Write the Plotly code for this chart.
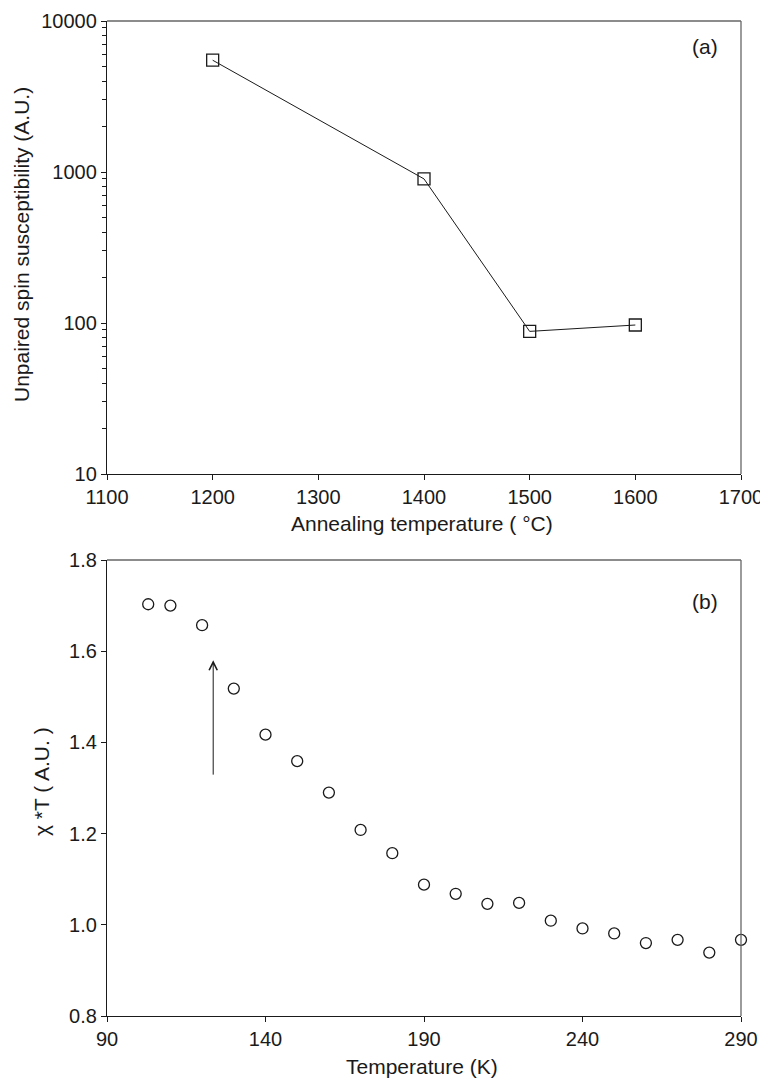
import plotly.graph_objects as go

# Panel (a)
anneal_temp = [1200, 1400, 1500, 1600]
spin_susc = [5500, 900, 88, 97]

# Panel (b)
temp_k = [103, 110, 120, 130, 140, 150, 160, 170, 180, 190, 200, 210, 220, 230, 240, 250, 260, 270, 280, 290]
chi_t = [1.703, 1.700, 1.657, 1.518, 1.417, 1.359, 1.290, 1.208, 1.157, 1.088, 1.068, 1.046, 1.048,
         1.009, 0.992, 0.981, 0.960, 0.967, 0.939, 0.967]

x_ticks_a = [1100, 1200, 1300, 1400, 1500, 1600, 1700]
y_ticks_a = [10, 100, 1000, 10000]
x_ticks_b = [90, 140, 190, 240, 290]
y_ticks_b = [0.8, 1.0, 1.2, 1.4, 1.6, 1.8]

FONT = "Liberation Sans, Arial, sans-serif"
OFF = 8  # page body margin
L, R = 107 - OFF, 768 - (741 - OFF)
W_PLOT = 768 - L - R
H = 1080


def py(render_y):
    return 1 - (render_y - OFF) / H


def px(render_x):
    return (render_x - OFF - L) / W_PLOT


fig = go.Figure()

fig.add_trace(go.Scatter(
    x=anneal_temp, y=spin_susc, mode="lines+markers",
    line=dict(color="#1a1a1a", width=1),
    marker=dict(symbol="square-open", size=12, color="#1a1a1a", line=dict(width=1.3)),
    xaxis="x", yaxis="y", showlegend=False, cliponaxis=False))

fig.add_trace(go.Scatter(
    x=temp_k, y=chi_t, mode="markers",
    marker=dict(symbol="circle-open", size=11, color="#1a1a1a", line=dict(width=1.3)),
    xaxis="x2", yaxis="y2", showlegend=False, cliponaxis=False))

axis_common = dict(showgrid=False, zeroline=False, showline=True, linecolor="#1a1a1a", linewidth=1.3,
                   ticks="outside", ticklen=5, tickwidth=1, tickcolor="#1a1a1a", mirror=False,
                   automargin=False, ticklabeloverflow="allow",
                   tickfont=dict(family=FONT, size=20, color="#1a1a1a"))

top_dom = [py(474), py(21)]
bot_dom = [py(1016), py(560)]

fig.update_layout(
    width=768, height=H,
    margin=dict(l=L, r=R, t=0, b=0),
    paper_bgcolor="white", plot_bgcolor="white",
    font=dict(family=FONT, color="#1a1a1a"),
    xaxis=dict(domain=[0, 1], anchor="y", range=[1100, 1700], tickvals=x_ticks_a, **axis_common),
    yaxis=dict(domain=top_dom, anchor="x", type="log", range=[1, 4], tickvals=y_ticks_a,
               ticktext=[str(v) for v in y_ticks_a],
               minor=dict(ticks="outside", ticklen=4, dtick="D1", tickcolor="#1a1a1a", showgrid=False),
               **axis_common),
    xaxis2=dict(domain=[0, 1], anchor="y2", range=[90, 290], tickvals=x_ticks_b, **axis_common),
    yaxis2=dict(domain=bot_dom, anchor="x2", range=[0.8, 1.8], tickvals=y_ticks_b,
                tickformat=".1f", **axis_common),
)

# gray top/right frame lines
for xr, yr in [("x", "y"), ("x2", "y2")]:
    fig.add_shape(type="line", xref=f"{xr} domain", yref=f"{yr} domain", x0=0, x1=1, y0=1, y1=1,
                  line=dict(color="#666666", width=1.3))
    fig.add_shape(type="line", xref=f"{xr} domain", yref=f"{yr} domain", x0=1, x1=1, y0=0, y1=1,
                  line=dict(color="#666666", width=1.3))

ann_font = dict(family=FONT, size=21, color="#1a1a1a")
fig.add_annotation(text="(a)", xref="paper", yref="paper", x=px(705), y=py(47),
                   xanchor="center", yanchor="middle", showarrow=False, font=ann_font)
fig.add_annotation(text="(b)", xref="paper", yref="paper", x=px(705), y=py(601),
                   xanchor="center", yanchor="middle", showarrow=False, font=ann_font)
fig.add_annotation(text="Annealing temperature ( °C)", xref="paper", yref="paper",
                   x=px(422), y=py(523), xanchor="center", yanchor="middle", showarrow=False, font=ann_font)
fig.add_annotation(text="Temperature (K)", xref="paper", yref="paper",
                   x=px(422), y=py(1066), xanchor="center", yanchor="middle", showarrow=False, font=ann_font)
fig.add_annotation(text="Unpaired spin susceptibility (A.U.)", xref="paper", yref="paper",
                   x=px(21), y=py(245), xanchor="center", yanchor="middle",
                   textangle=-90, showarrow=False, font=ann_font)
fig.add_annotation(text="χ *T ( A.U. )", xref="paper", yref="paper",
                   x=px(41), y=py(782), xanchor="center", yanchor="middle",
                   textangle=-90, showarrow=False, font=ann_font)

# arrow in panel (b)
fig.add_annotation(x=123.5, y=1.58, ax=123.5, ay=1.326, xref="x2", yref="y2", axref="x2", ayref="y2",
                   text="", showarrow=True, arrowhead=5, arrowsize=1.6, arrowwidth=1,
                   arrowcolor="#1a1a1a")

fig.write_html("out.html")
